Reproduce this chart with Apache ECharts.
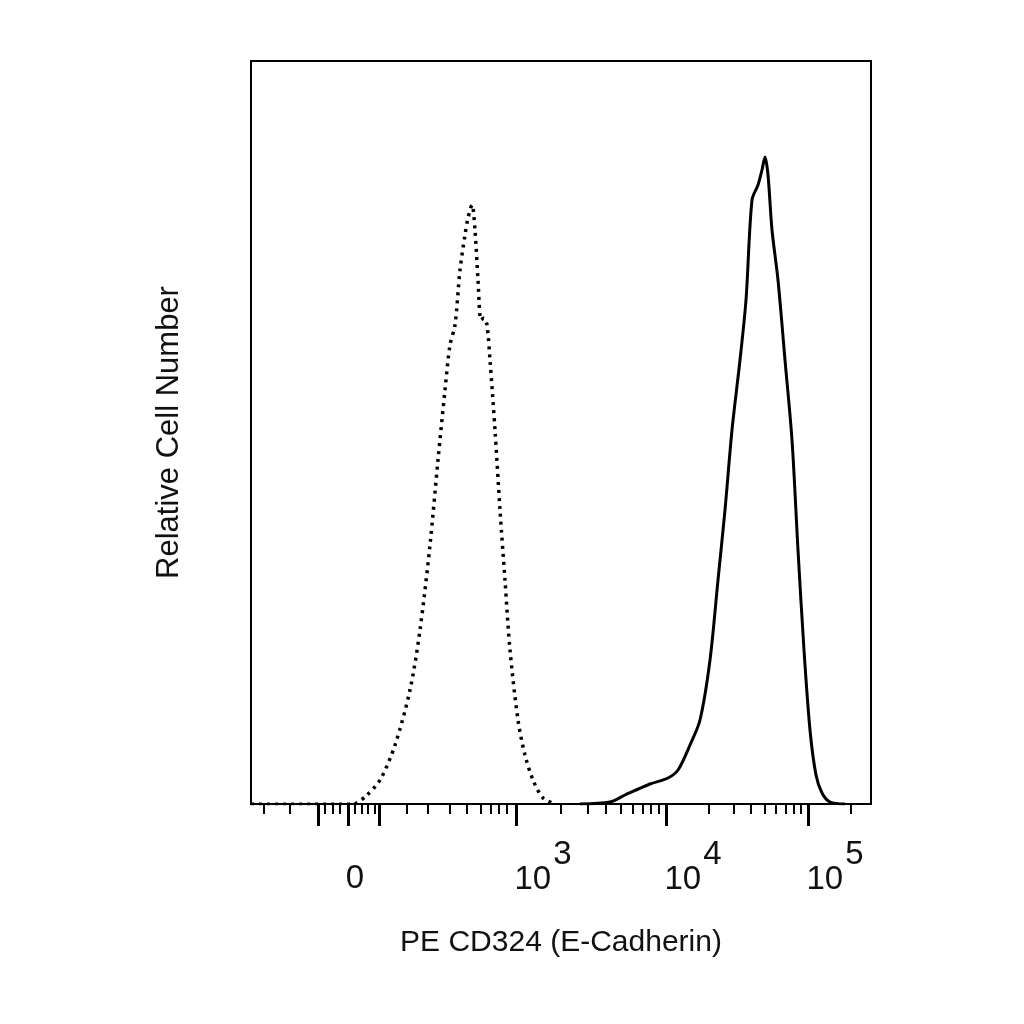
<!DOCTYPE html>
<html><head><meta charset="utf-8">
<script src="https://cdn.jsdelivr.net/npm/echarts@6/dist/echarts.min.js"></script>
<style>html,body{margin:0;background:#fff}#c{width:1024px;height:1024px}</style>
</head><body><div id="c"></div>
<script>
// x in display units across the plot (0..620), y in relative counts
var isotypeX = [104,114,129,144,159,169,179,187,194,199,204,209,214,217,221,224,227,230,233,236,239,244,249,254,259,267,274,282,292,304];
var isotypeY = [0,7,24,59,114,174,259,344,414,459,479,534,569,586,599,574,524,484,486,479,444,374,294,224,154,84,49,24,6,0];
var stainX = [329,359,374,399,417,427,439,449,459,467,474,481,489,495,501,507,511,514,517,521,527,534,541,547,553,559,565,571,579,594];
var stainY = [0,2,9,20,26,34,59,84,144,224,294,374,444,504,604,619,634,647,629,574,524,444,364,254,154,74,29,11,2,0];
var minorTicks = [13,39,74,82,89,104,111,117,124,156,177,199,216,230,240,248,256,310,337,355,370,382,392,400,408,458,483,500,514,525,535,543,550,600];
var majorTicks = [67,97,128,265,415,557];
var labelPos = [104,292,442,584];
var labelText = ['{z|0}', '10{s|3}', '10{s|4}', '10{s|5}'];

function zip(xs, ys) {
    var out = [];
    for (var i = 0; i < xs.length; i++) out.push([xs[i], ys[i]]);
    return out;
}

var chart = echarts.init(document.getElementById('c'));
var font = 'Liberation Sans';
var baseAxis = {
    type: 'value', min: 0, max: 620, splitLine: {show: false},
    axisLine: {show: false}
};
chart.setOption({
    animation: false,
    grid: {left: 251, right: 153, top: 61, bottom: 220, show: true, borderColor: '#000', borderWidth: 2},
    xAxis: [
        Object.assign({}, baseAxis, {
            axisTick: {show: true, length: 10, lineStyle: {color: '#000', width: 2}, customValues: minorTicks},
            axisLabel: {show: false}
        }),
        Object.assign({}, baseAxis, {
            position: 'bottom',
            axisTick: {show: true, length: 22, lineStyle: {color: '#000', width: 3}, customValues: majorTicks},
            axisLabel: {
                show: true, customValues: labelPos, margin: 34,
                fontFamily: font, fontSize: 33, color: '#111',
                formatter: function (v) { return labelText[labelPos.indexOf(v)]; },
                rich: {
                    s: {fontFamily: font, fontSize: 33, color: '#111', padding: [0, 0, 50, 2]},
                    z: {fontFamily: font, fontSize: 33, color: '#111', padding: [24, 0, 0, 0]}
                }
            },
            name: 'PE CD324 (E-Cadherin)', nameLocation: 'middle', nameGap: 124,
            nameTextStyle: {fontFamily: font, fontSize: 30, color: '#111'}
        })
    ],
    yAxis: {
        type: 'value', min: 0, max: 743, show: true,
        axisLine: {show: false}, axisTick: {show: false}, axisLabel: {show: false}, splitLine: {show: false},
        name: 'Relative Cell Number', nameLocation: 'middle', nameGap: 66, nameRotate: 90,
        nameTextStyle: {fontFamily: font, fontSize: 31, color: '#111'}
    },
    series: [
        {type: 'line', data: zip(isotypeX, isotypeY), showSymbol: false, smooth: 0.3,
         lineStyle: {color: '#000', width: 3.5, type: [3, 5]}},
        {type: 'line', data: zip(stainX, stainY), showSymbol: false, smooth: 0.3,
         lineStyle: {color: '#000', width: 3}},
        {type: 'line', data: [[0, 0], [104, 0]], showSymbol: false,
         lineStyle: {color: '#000', width: 3, type: [3, 5]}}
    ]
});
</script></body></html>
